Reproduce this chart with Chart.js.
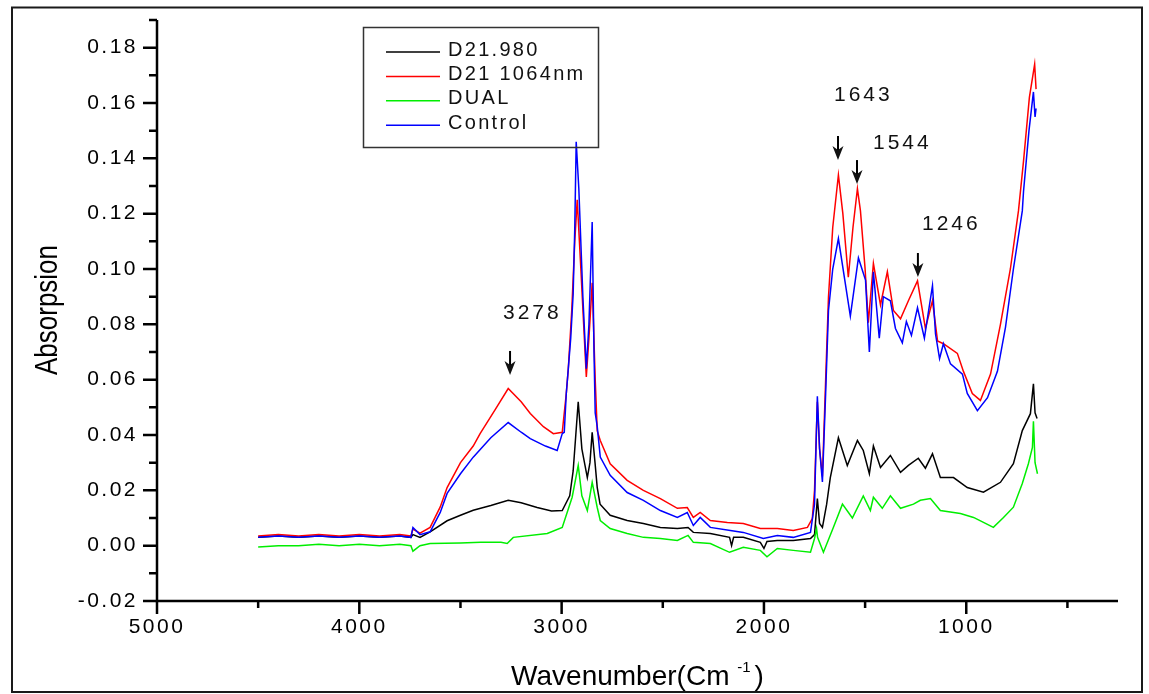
<!DOCTYPE html>
<html>
<head>
<meta charset="utf-8">
<script src="https://cdn.jsdelivr.net/npm/chart.js@4.4.0/dist/chart.umd.min.js"></script>
<style>
html, body { margin: 0; padding: 0; background: #fff; }
#ftir_wrap { position: relative; width: 1149px; height: 694px; }
</style>
</head>
<body>
<div id="ftir_wrap"><canvas id="ftir_chart"></canvas></div>
<script>
// values, wavenumber (cm-1) / absorbance
var wnBlack = [4500, 4400, 4300, 4200, 4100, 4000, 3900, 3800, 3745, 3735, 3700, 3650, 3566, 3500, 3437, 3350, 3264, 3200, 3121, 3050, 2997, 2960, 2943, 2930, 2918, 2900, 2873, 2860, 2849, 2835, 2824, 2810, 2760, 2676, 2596, 2512, 2428, 2375, 2349, 2265, 2170, 2160, 2150, 2102, 2018, 2000, 1985, 1934, 1855, 1770, 1750, 1736, 1725, 1711, 1690, 1672, 1632, 1588, 1538, 1509, 1479, 1459, 1424, 1375, 1325, 1286, 1237, 1202, 1167, 1128, 1063, 995, 915, 831, 767, 723, 683, 668, 660, 650];
var absBlack = [0.003, 0.0035, 0.003, 0.0035, 0.003, 0.0035, 0.003, 0.0035, 0.003, 0.004, 0.003, 0.005, 0.009, 0.011, 0.0128, 0.0145, 0.0164, 0.0155, 0.0138, 0.0125, 0.0127, 0.018, 0.027, 0.04, 0.052, 0.035, 0.0246, 0.03, 0.041, 0.03, 0.021, 0.015, 0.011, 0.0091, 0.008, 0.0066, 0.0062, 0.0066, 0.0048, 0.0044, 0.003, 0.0, 0.003, 0.003, 0.0012, -0.001, 0.0015, 0.0019, 0.0019, 0.0026, 0.004, 0.017, 0.008, 0.0066, 0.015, 0.0246, 0.039, 0.029, 0.038, 0.0344, 0.026, 0.036, 0.0283, 0.0326, 0.0265, 0.029, 0.0316, 0.028, 0.0332, 0.0246, 0.0246, 0.021, 0.0193, 0.0229, 0.0296, 0.0416, 0.0477, 0.0585, 0.048, 0.046];

var wnRed = [4500, 4400, 4300, 4200, 4100, 4000, 3900, 3800, 3745, 3735, 3700, 3650, 3600, 3566, 3500, 3437, 3403, 3330, 3264, 3200, 3155, 3090, 3041, 2997, 2977, 2967, 2950, 2935, 2923, 2905, 2878, 2865, 2849, 2834, 2824, 2809, 2760, 2676, 2596, 2512, 2428, 2379, 2349, 2315, 2265, 2181, 2102, 2018, 1934, 1855, 1785, 1761, 1750, 1736, 1725, 1711, 1695, 1681, 1660, 1632, 1610, 1583, 1560, 1538, 1523, 1500, 1484, 1459, 1424, 1390, 1360, 1325, 1286, 1241, 1202, 1167, 1142, 1113, 1044, 1014, 970, 930, 880, 831, 782, 742, 717, 688, 662, 655];
var absRed = [0.0035, 0.004, 0.0035, 0.004, 0.0035, 0.004, 0.0035, 0.004, 0.0035, 0.006, 0.0045, 0.0066, 0.014, 0.021, 0.03, 0.036, 0.0405, 0.049, 0.0568, 0.052, 0.0478, 0.043, 0.0405, 0.041, 0.055, 0.064, 0.085, 0.11, 0.125, 0.1, 0.061, 0.075, 0.095, 0.06, 0.0415, 0.038, 0.0296, 0.0236, 0.02, 0.017, 0.0135, 0.0138, 0.0102, 0.012, 0.0091, 0.0084, 0.008, 0.0062, 0.0062, 0.0055, 0.0066, 0.0098, 0.02, 0.052, 0.035, 0.025, 0.06, 0.09, 0.115, 0.134, 0.12, 0.097, 0.115, 0.129, 0.121, 0.1, 0.0806, 0.102, 0.087, 0.099, 0.085, 0.082, 0.0885, 0.0957, 0.0785, 0.0885, 0.074, 0.073, 0.0695, 0.063, 0.055, 0.0525, 0.062, 0.080, 0.100, 0.121, 0.139, 0.162, 0.174, 0.165];

var wnDual = [4500, 4400, 4300, 4200, 4100, 4000, 3900, 3800, 3745, 3735, 3700, 3650, 3500, 3400, 3300, 3269, 3239, 3071, 2997, 2948, 2918, 2900, 2873, 2849, 2824, 2809, 2760, 2676, 2596, 2512, 2428, 2375, 2349, 2265, 2170, 2102, 2018, 1985, 1934, 1855, 1770, 1750, 1740, 1735, 1706, 1657, 1612, 1563, 1509, 1474, 1459, 1415, 1375, 1325, 1261, 1227, 1177, 1128, 1029, 964, 915, 866, 816, 767, 723, 693, 673, 668, 660, 648];
var absDual = [-0.0005, 0.0, 0.0, 0.0005, 0.0, 0.0005, 0.0, 0.0005, 0.0, -0.002, 0.0, 0.0008, 0.001, 0.0012, 0.0012, 0.0008, 0.003, 0.0044, 0.0066, 0.0175, 0.029, 0.018, 0.0127, 0.0229, 0.0138, 0.0091, 0.0062, 0.0044, 0.003, 0.0026, 0.0019, 0.0037, 0.0012, 0.0008, -0.0024, -0.0006, -0.0017, -0.004, -0.001, -0.0017, -0.0024, 0.0026, 0.0062, 0.003, -0.0024, 0.0066, 0.015, 0.010, 0.018, 0.0127, 0.0175, 0.0135, 0.018, 0.0135, 0.015, 0.0164, 0.017, 0.0127, 0.0116, 0.0102, 0.0084, 0.0066, 0.0102, 0.0139, 0.0225, 0.0296, 0.0355, 0.045, 0.03, 0.026];

var wnCtrl = [4500, 4400, 4300, 4200, 4100, 4000, 3900, 3800, 3745, 3735, 3700, 3650, 3600, 3566, 3500, 3437, 3350, 3264, 3200, 3155, 3080, 3022, 2997, 2987, 2977, 2967, 2955, 2943, 2935, 2928, 2915, 2895, 2878, 2865, 2849, 2840, 2834, 2824, 2809, 2760, 2676, 2596, 2512, 2428, 2379, 2349, 2315, 2265, 2166, 2102, 2003, 1934, 1855, 1770, 1750, 1736, 1725, 1711, 1695, 1681, 1660, 1632, 1573, 1533, 1498, 1479, 1459, 1430, 1410, 1375, 1350, 1316, 1296, 1271, 1241, 1207, 1167, 1152, 1132, 1113, 1078, 1019, 995, 945, 895, 846, 806, 767, 723, 717, 690, 668, 660, 655];
var absCtrl = [0.003, 0.0035, 0.003, 0.0035, 0.003, 0.0035, 0.003, 0.0035, 0.003, 0.0066, 0.004, 0.005, 0.012, 0.0189, 0.026, 0.032, 0.039, 0.0445, 0.041, 0.0387, 0.036, 0.0344, 0.0405, 0.041, 0.055, 0.064, 0.075, 0.091, 0.115, 0.146, 0.129, 0.09, 0.064, 0.08, 0.117, 0.07, 0.048, 0.043, 0.032, 0.0254, 0.0192, 0.0164, 0.0127, 0.0102, 0.012, 0.0073, 0.0102, 0.0066, 0.0055, 0.0048, 0.0026, 0.0037, 0.003, 0.0048, 0.015, 0.054, 0.035, 0.023, 0.055, 0.085, 0.1, 0.111, 0.083, 0.104, 0.096, 0.070, 0.099, 0.075, 0.090, 0.0885, 0.0785, 0.0733, 0.081, 0.076, 0.086, 0.075, 0.094, 0.0765, 0.0676, 0.073, 0.0657, 0.062, 0.055, 0.0488, 0.0535, 0.063, 0.079, 0.100, 0.121, 0.128, 0.15, 0.164, 0.155, 0.158];

var seriesNames = ['D21.980', 'D21 1064nm', 'DUAL', 'Control'];
var xMajorTicks = [5000, 4000, 3000, 2000, 1000];
var xMinorTicks = [4500, 3500, 2500, 1500, 500];
var yMajorTicks = [-0.02, 0.0, 0.02, 0.04, 0.06, 0.08, 0.10, 0.12, 0.14, 0.16, 0.18];
var yMinorTicks = [-0.01, 0.01, 0.03, 0.05, 0.07, 0.09, 0.11, 0.13, 0.15, 0.17, 0.19];
var peakLabels = ['3278', '1643', '1544', '1246'];
var peakArrowWn = [3255, 1634, 1540, 1239];

// where the labels/arrows sit, in axis units
var peakMarks = [
    { tip: 0.0617, textWn: 3290, textAbs: 0.0841 },
    { tip: 0.1394, textWn: 1654, textAbs: 0.1629 },
    { tip: 0.1307, textWn: 1461, textAbs: 0.1455 },
    { tip: 0.0971, textWn: 1219, textAbs: 0.1163 }
];

var ftirFont = "'Liberation Sans', Arial, sans-serif";

function ftir_points(wn, vals) {
    return wn.map(function (w, i) { return { x: w, y: vals[i] }; });
}

var ftir_decor = {
    id: 'ftir_decor',
    beforeDraw: function (chart) {
        var ctx = chart.ctx;
        ctx.save();
        ctx.fillStyle = '#fff';
        ctx.fillRect(0, 0, chart.width, chart.height);
        ctx.strokeStyle = '#1a1a1a';
        ctx.lineWidth = 2;
        ctx.strokeRect(12, 7.5, 1130, 684.5);
        ctx.restore();
        ctx.letterSpacing = '2.5px';
    },
    beforeDatasetsDraw: function (chart) {
        chart.ctx.letterSpacing = '0px';
    },
    afterDraw: function (chart) {
        var ctx = chart.ctx;
        var xs = chart.scales.x;
        var ys = chart.scales.y;
        var area = chart.chartArea;

        ctx.save();
        ctx.strokeStyle = '#000';
        ctx.lineWidth = 2.5;
        ctx.lineCap = 'butt';

        // axes
        ctx.beginPath();
        ctx.moveTo(area.left, area.top);
        ctx.lineTo(area.left, area.bottom);
        ctx.lineTo(area.right, area.bottom);
        ctx.stroke();

        ctx.beginPath();
        xMajorTicks.forEach(function (v) {
            var px = xs.getPixelForValue(v);
            ctx.moveTo(px, area.bottom);
            ctx.lineTo(px, area.bottom + 13);
        });
        xMinorTicks.forEach(function (v) {
            var px = xs.getPixelForValue(v);
            ctx.moveTo(px, area.bottom);
            ctx.lineTo(px, area.bottom + 7);
        });
        yMajorTicks.forEach(function (v) {
            var py = ys.getPixelForValue(v);
            ctx.moveTo(area.left, py);
            ctx.lineTo(area.left - 14, py);
        });
        yMinorTicks.forEach(function (v) {
            var py = ys.getPixelForValue(v);
            ctx.moveTo(area.left, py);
            ctx.lineTo(area.left - 8, py);
        });
        ctx.stroke();

        // legend box
        ctx.lineWidth = 1.5;
        ctx.strokeStyle = '#333';
        ctx.strokeRect(363.5, 27.5, 235, 120);
        ctx.font = '20px ' + ftirFont;
        ctx.letterSpacing = '2.3px';
        ctx.textBaseline = 'middle';
        ctx.textAlign = 'left';
        chart.data.datasets.forEach(function (ds, i) {
            var ry = 52 + i * 24.4;
            ctx.strokeStyle = ds.borderColor;
            ctx.beginPath();
            ctx.moveTo(386, ry);
            ctx.lineTo(440, ry);
            ctx.stroke();
            ctx.fillStyle = '#111';
            ctx.fillText(ds.label, 448, ry - 2);
        });

        // peak labels with arrows
        ctx.font = '21px ' + ftirFont;
        ctx.letterSpacing = '3px';
        ctx.fillStyle = '#111';
        ctx.strokeStyle = '#000';
        ctx.lineWidth = 2;
        peakLabels.forEach(function (txt, i) {
            var m = peakMarks[i];
            var ax = xs.getPixelForValue(peakArrowWn[i]);
            var ay = ys.getPixelForValue(m.tip);
            ctx.beginPath();
            ctx.moveTo(ax, ay - 24);
            ctx.lineTo(ax, ay - 8);
            ctx.stroke();
            ctx.beginPath();
            ctx.moveTo(ax - 5.5, ay - 14);
            ctx.lineTo(ax, ay - 10);
            ctx.lineTo(ax + 5.5, ay - 14);
            ctx.lineTo(ax, ay);
            ctx.closePath();
            ctx.fill();
            ctx.fillText(txt, xs.getPixelForValue(m.textWn), ys.getPixelForValue(m.textAbs));
        });

        // axis titles
        ctx.letterSpacing = '0px';
        ctx.fillStyle = '#000';
        ctx.save();
        ctx.translate(57, 310);
        ctx.rotate(-Math.PI / 2);
        ctx.scale(1, 1.2);
        ctx.font = '26px ' + ftirFont;
        ctx.textAlign = 'center';
        ctx.textBaseline = 'alphabetic';
        ctx.fillText('Absorpsion', 0, 0);
        ctx.restore();

        var mainTxt = 'Wavenumber(Cm';
        ctx.textBaseline = 'alphabetic';
        ctx.textAlign = 'left';
        ctx.font = '28px ' + ftirFont;
        var w1 = ctx.measureText(mainTxt).width;
        var wSp = ctx.measureText(' ').width;
        var wPar = ctx.measureText(')').width;
        ctx.font = '15px ' + ftirFont;
        var wSup = ctx.measureText('-1').width;
        var total = w1 + wSp + wSup + wPar + 4;
        var startX = (area.left + area.right) / 2 - total / 2;
        ctx.font = '28px ' + ftirFont;
        ctx.fillText(mainTxt, startX, 685);
        ctx.font = '15px ' + ftirFont;
        ctx.fillText('-1', startX + w1 + wSp, 672);
        ctx.font = '28px ' + ftirFont;
        ctx.fillText(')', startX + w1 + wSp + wSup + 4, 685);

        ctx.restore();
    }
};

function ftir_chart_init() {
    var ctx = document.getElementById('ftir_chart');

    var data = {
        datasets: [{
            label: seriesNames[0],
            data: ftir_points(wnBlack, absBlack),
            borderColor: '#000000',
            order: 4
        }, {
            label: seriesNames[1],
            data: ftir_points(wnRed, absRed),
            borderColor: '#ff0000',
            order: 3
        }, {
            label: seriesNames[2],
            data: ftir_points(wnDual, absDual),
            borderColor: '#00ee00',
            order: 2
        }, {
            label: seriesNames[3],
            data: ftir_points(wnCtrl, absCtrl),
            borderColor: '#0000ff',
            order: 1
        }]
    };

    return new Chart(ctx, {
        type: 'line',
        data: data,
        plugins: [ftir_decor],
        options: {
            responsive: true,
            maintainAspectRatio: false,
            animation: false,
            devicePixelRatio: 1,
            layout: { padding: { left: 0, top: 20, right: 31, bottom: 0 } },
            elements: {
                point: { radius: 0 },
                line: { borderWidth: 1.5, tension: 0, fill: false }
            },
            plugins: {
                legend: { display: false },
                tooltip: { enabled: false }
            },
            scales: {
                x: {
                    type: 'linear',
                    reverse: true,
                    min: 250,
                    max: 5000,
                    grid: { display: false, drawTicks: false },
                    border: { display: false },
                    afterBuildTicks: function (s) {
                        s.ticks = xMajorTicks.map(function (v) { return { value: v }; });
                    },
                    afterFit: function (s) {
                        s.height = 93;
                        s.paddingLeft = 0;
                        s.paddingRight = 0;
                    },
                    ticks: {
                        autoSkip: false,
                        maxRotation: 0,
                        padding: 14,
                        color: '#000',
                        font: { family: ftirFont, size: 21 },
                        callback: function (v) { return String(v); }
                    }
                },
                y: {
                    min: -0.02,
                    max: 0.19,
                    grid: { display: false, drawTicks: false },
                    border: { display: false },
                    afterBuildTicks: function (s) {
                        s.ticks = yMajorTicks.map(function (v) { return { value: v }; });
                    },
                    afterFit: function (s) {
                        s.width = 157;
                        s.paddingTop = 0;
                        s.paddingBottom = 0;
                    },
                    ticks: {
                        autoSkip: false,
                        padding: 19,
                        color: '#000',
                        font: { family: ftirFont, size: 21 },
                        callback: function (v) { return Number(v).toFixed(2); }
                    }
                }
            }
        }
    });
}

ftir_chart_init();
</script>
</body>
</html>
